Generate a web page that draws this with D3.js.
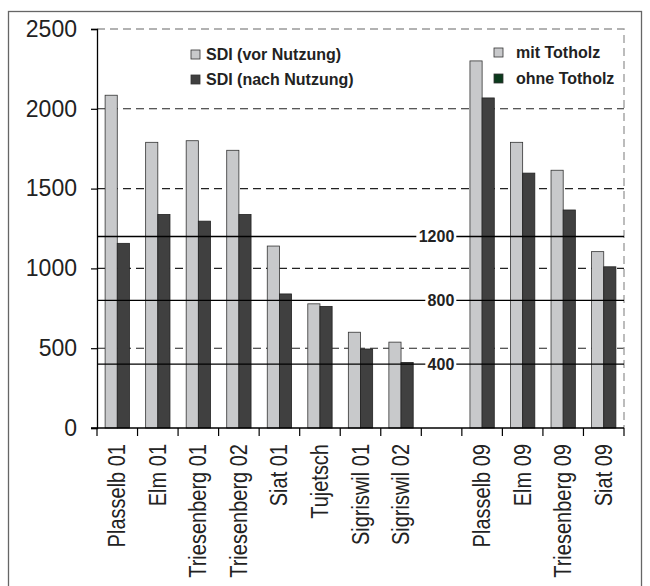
<!DOCTYPE html>
<html>
<head>
<meta charset="utf-8">
<script src="https://cdn.jsdelivr.net/npm/d3@7"></script>
<style>
  body { margin: 0; background: #fff; }
  svg { font-family: "Liberation Sans", Arial, sans-serif; }
</style>
</head>
<body>
<svg id="chart" width="650" height="586"></svg>
<script>
// categories (the empty one is the gap between the two groups)
var categories = ["Plasselb 01", "Elm 01", "Triesenberg 01", "Triesenberg 02", "Siat 01",
  "Tujetsch", "Sigriswil 01", "Sigriswil 02", "", "Plasselb 09", "Elm 09",
  "Triesenberg 09", "Siat 09"];
var sdiVor = [2085, 1790, 1800, 1740, 1140, 778, 600, 538, null, 2300, 1790, 1615, 1105];
var sdiNach = [1157, 1338, 1296, 1338, 840, 762, 495, 411, null, 2068, 1597, 1366, 1010];
var yTicks = [0, 500, 1000, 1500, 2000, 2500];
var refLines = [1200, 800, 400];
var legendLeft = ["SDI (vor Nutzung)", "SDI (nach Nutzung)"];
var legendRight = ["mit Totholz", "ohne Totholz"];

var margin = {left: 97, top: 29, right: 26},
    plotW = 650 - margin.left - margin.right,
    plotH = 399;

var svg = d3.select("#chart");

//outer frame
svg.append("rect")
  .attr("x", 8.5).attr("y", 11.5)
  .attr("width", 633).attr("height", 620)
  .attr("fill", "none").attr("stroke", "#666").attr("stroke-width", 1.3);

var g = svg.append("g").attr("transform", "translate(" + margin.left + "," + margin.top + ")");

var x = d3.scaleBand()
  .domain(d3.range(categories.length))
  .range([0, plotW])
  .padding(0);

var x1 = d3.scaleBand()
  .domain(["vor", "nach"])
  .range([x.bandwidth() * 0.2, x.bandwidth() * 0.8]);

var y = d3.scaleLinear().domain([0, 2500]).range([plotH, 0]);

//dashed grid (2500 + right edge are the grey plot border)
g.selectAll(".grid")
  .data(yTicks.filter(function(d) { return d > 0 && d < 2500; }))
  .enter().append("line")
    .attr("x1", 0).attr("x2", plotW)
    .attr("y1", function(d) { return y(d); })
    .attr("y2", function(d) { return y(d); })
    .attr("stroke", "#222").attr("stroke-width", 1.1)
    .attr("stroke-dasharray", "8,5");

g.append("path")
  .attr("d", "M0," + y(2500) + "H" + plotW + "V" + y(0))
  .attr("fill", "none").attr("stroke", "#999").attr("stroke-width", 1.3)
  .attr("stroke-dasharray", "8,5");

//bars
var rows = categories.map(function(c, i) {
  return {i: i, vor: sdiVor[i], nach: sdiNach[i]};
}).filter(function(d) { return d.vor != null; });

var grp = g.selectAll(".cat")
  .data(rows)
  .enter().append("g")
    .attr("transform", function(d) { return "translate(" + x(d.i) + ",0)"; });

grp.append("rect")
  .attr("x", x1("vor"))
  .attr("width", x1.bandwidth())
  .attr("y", function(d) { return y(d.vor); })
  .attr("height", function(d) { return y(0) - y(d.vor); })
  .attr("fill", "#c8c9cb").attr("stroke", "#333").attr("stroke-width", 0.8);

grp.append("rect")
  .attr("x", x1("nach"))
  .attr("width", x1.bandwidth())
  .attr("y", function(d) { return y(d.nach); })
  .attr("height", function(d) { return y(0) - y(d.nach); })
  .attr("fill", "#404040").attr("stroke", "#222").attr("stroke-width", 0.8);

//reference lines with labels
g.selectAll(".ref")
  .data(refLines)
  .enter().append("line")
    .attr("x1", 0).attr("x2", plotW)
    .attr("y1", function(d) { return y(d); })
    .attr("y2", function(d) { return y(d); })
    .attr("stroke", "#000").attr("stroke-width", 1.3);

var refLab = g.selectAll(".reflab")
  .data(refLines)
  .enter().append("g")
    .attr("transform", function(d) { return "translate(" + (x(8) + 33) + "," + y(d) + ")"; });

refLab.append("rect")
  .attr("x", function(d) { return d >= 1000 ? -38 : -29; })
  .attr("y", -7)
  .attr("width", function(d) { return d >= 1000 ? 40 : 31; })
  .attr("height", 14)
  .attr("fill", "#fff");

refLab.append("text")
  .attr("text-anchor", "end")
  .attr("dy", "0.36em")
  .attr("font-size", 16).attr("font-weight", "bold").attr("fill", "#222")
  .text(function(d) { return d; });

//y axis
var yAxis = g.append("g")
  .call(d3.axisLeft(y).tickValues(yTicks).tickSize(6).tickPadding(14).tickFormat(d3.format("d")));
yAxis.select(".domain").attr("stroke", "#000").attr("stroke-width", 1.3);
yAxis.selectAll(".tick line").attr("stroke", "#000").attr("stroke-width", 1.2);
yAxis.selectAll("text").attr("font-size", 23).attr("fill", "#222")
  .attr("font-family", "Liberation Sans, Arial, sans-serif");

//x axis: line, boundary ticks, rotated labels
g.append("line")
  .attr("x1", -6).attr("x2", plotW)
  .attr("y1", y(0)).attr("y2", y(0))
  .attr("stroke", "#000").attr("stroke-width", 1.3);

g.selectAll(".xt")
  .data(d3.range(categories.length + 1))
  .enter().append("line")
    .attr("x1", function(d) { return d < categories.length ? x(d) : plotW; })
    .attr("x2", function(d) { return d < categories.length ? x(d) : plotW; })
    .attr("y1", y(0)).attr("y2", y(0) + 8)
    .attr("stroke", "#000").attr("stroke-width", 1.2);

//labels a bit wider across than along (as in the original)
g.selectAll(".xl")
  .data(categories.map(function(c, i) { return {c: c, i: i}; }).filter(function(d) { return d.c; }))
  .enter().append("text")
    .attr("transform", function(d) {
      return "translate(" + (x(d.i) + x.bandwidth() / 2) + "," + (y(0) + 16) + ") scale(1.15,1) rotate(-90)";
    })
    .attr("text-anchor", "end")
    .attr("dy", "0.35em")
    .attr("font-size", 20).attr("fill", "#222")
    .text(function(d) { return d.c; });

//legends
var legL = svg.append("g").attr("transform", "translate(191,50)");
legL.selectAll("rect")
  .data(legendLeft)
  .enter().append("rect")
    .attr("x", 0).attr("y", function(d, i) { return i * 25; })
    .attr("width", 9).attr("height", 9)
    .attr("fill", function(d, i) { return i ? "#404040" : "#c8c9cb"; })
    .attr("stroke", "#333").attr("stroke-width", 0.8);
legL.selectAll("text")
  .data(legendLeft)
  .enter().append("text")
    .attr("x", 15).attr("y", function(d, i) { return i * 25 + 4.5; })
    .attr("dy", "0.36em")
    .attr("font-size", 16).attr("font-weight", "bold").attr("fill", "#222")
    .text(function(d) { return d; });

var legR = svg.append("g").attr("transform", "translate(494,48)");
legR.selectAll("rect")
  .data(legendRight)
  .enter().append("rect")
    .attr("x", 0).attr("y", function(d, i) { return i * 26; })
    .attr("width", 9).attr("height", 9)
    .attr("fill", function(d, i) { return i ? "#0b3a1c" : "#c8c9cb"; })
    .attr("stroke", "#333").attr("stroke-width", 0.8);
legR.selectAll("text")
  .data(legendRight)
  .enter().append("text")
    .attr("x", 22).attr("y", function(d, i) { return i * 26 + 4.5; })
    .attr("dy", "0.36em")
    .attr("font-size", 16).attr("font-weight", "bold").attr("fill", "#222")
    .text(function(d) { return d; });
</script>
</body>
</html>
